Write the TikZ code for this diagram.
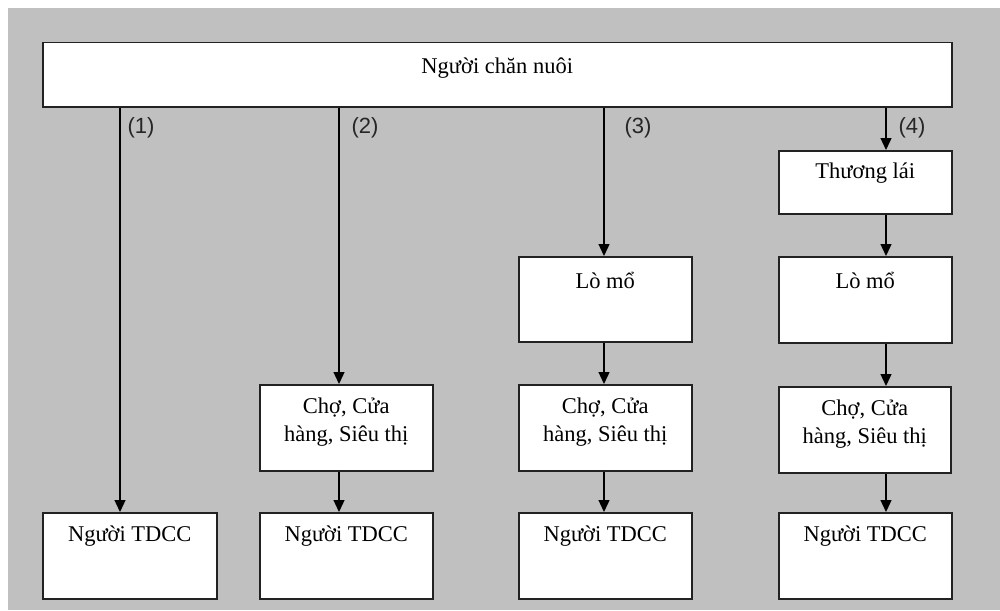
\documentclass[tikz,border=0pt]{standalone}
\usepackage{fontspec}
\setmainfont{Liberation Serif}
\newfontfamily\labfont{Liberation Sans}
\usetikzlibrary{arrows.meta,calc}
\definecolor{bggray}{HTML}{C0C0C0}
\definecolor{edge}{HTML}{222222}
\begin{document}
\begin{tikzpicture}[x=1pt,y=-1pt,
 box/.style={draw=edge,line width=1.5pt,fill=white,rectangle,inner sep=0pt,anchor=north west},
 txt/.style={font=\fontsize{22.5}{28}\selectfont,align=center,anchor=center,inner sep=0pt},
 conn/.style={draw=black,line width=1.3pt,-{Triangle[length=12pt,width=11pt]}},
 lab/.style={font=\labfont\fontsize{22}{26}\selectfont,inner sep=0pt,text=black!85}]
\useasboundingbox (0,0) rectangle (1000,610);
\fill[white] (0,0) rectangle (1000,610);
\fill[bggray] (8,8) rectangle (1000,610);

% top box
\node[box,minimum width=909pt,minimum height=64pt] (top) at (42,42) {};
\node[txt] (tTop) at ($(top.north)+(0,26)$) {Người chăn nuôi};

% column 1
\node[box,minimum width=174pt,minimum height=86pt] (c1b) at (42,512) {};
\node[txt] (t1b) at ($(c1b.north)+(0,24)$) {Người TDCC};

% column 2
\node[box,minimum width=173pt,minimum height=86pt] (c2m) at (259,384) {};
\node[txt] (t2m) at ($(c2m.north)+(0,38)$) {Chợ, Cửa\\hàng, Siêu thị};
\node[box,minimum width=173pt,minimum height=86pt] (c2b) at (259,512) {};
\node[txt] (t2b) at ($(c2b.north)+(0,24)$) {Người TDCC};

% column 3
\node[box,minimum width=173pt,minimum height=85pt] (c3l) at (518,256) {};
\node[txt] (t3l) at ($(c3l.north)+(0,24)$) {Lò mổ};
\node[box,minimum width=173pt,minimum height=86pt] (c3m) at (518,384) {};
\node[txt] (t3m) at ($(c3m.north)+(0,38)$) {Chợ, Cửa\\hàng, Siêu thị};
\node[box,minimum width=173pt,minimum height=86pt] (c3b) at (518,512) {};
\node[txt] (t3b) at ($(c3b.north)+(0,24)$) {Người TDCC};

% column 4
\node[box,minimum width=173pt,minimum height=63pt] (c4t) at (778,150) {};
\node[txt] (t4t) at ($(c4t.north)+(0,23)$) {Thương lái};
\node[box,minimum width=173pt,minimum height=86pt] (c4l) at (778,256) {};
\node[txt] (t4l) at ($(c4l.north)+(0,24)$) {Lò mổ};
\node[box,minimum width=172pt,minimum height=86pt] (c4m) at (778,386) {};
\node[txt] (t4m) at ($(c4m.north)+(0,38)$) {Chợ, Cửa\\hàng, Siêu thị};
\node[box,minimum width=173pt,minimum height=86pt] (c4b) at (778,512) {};
\node[txt] (t4b) at ($(c4b.north)+(0,24)$) {Người TDCC};

% connector x positions
\coordinate (x1) at (120,0);
\coordinate (x2) at (339,0);
\coordinate (x3) at (604,0);
\coordinate (x4) at (886,0);

\draw[conn] (top.south -| x1) -- (c1b.north -| x1);
\draw[conn] (top.south -| x2) -- (c2m.north -| x2);
\draw[conn] (c2m.south -| x2) -- (c2b.north -| x2);
\draw[conn] (top.south -| x3) -- (c3l.north -| x3);
\draw[conn] (c3l.south -| x3) -- (c3m.north -| x3);
\draw[conn] (c3m.south -| x3) -- (c3b.north -| x3);
\draw[conn] (top.south -| x4) -- (c4t.north -| x4);
\draw[conn] (c4t.south -| x4) -- (c4l.north -| x4);
\draw[conn] (c4l.south -| x4) -- (c4m.north -| x4);
\draw[conn] (c4m.south -| x4) -- (c4b.north -| x4);

% labels
\node[lab] (l1) at (141,128) {(1)};
\node[lab] (l2) at (365,128) {(2)};
\node[lab] (l3) at (638,128) {(3)};
\node[lab] (l4) at (912,128) {(4)};
\end{tikzpicture}
\end{document}
